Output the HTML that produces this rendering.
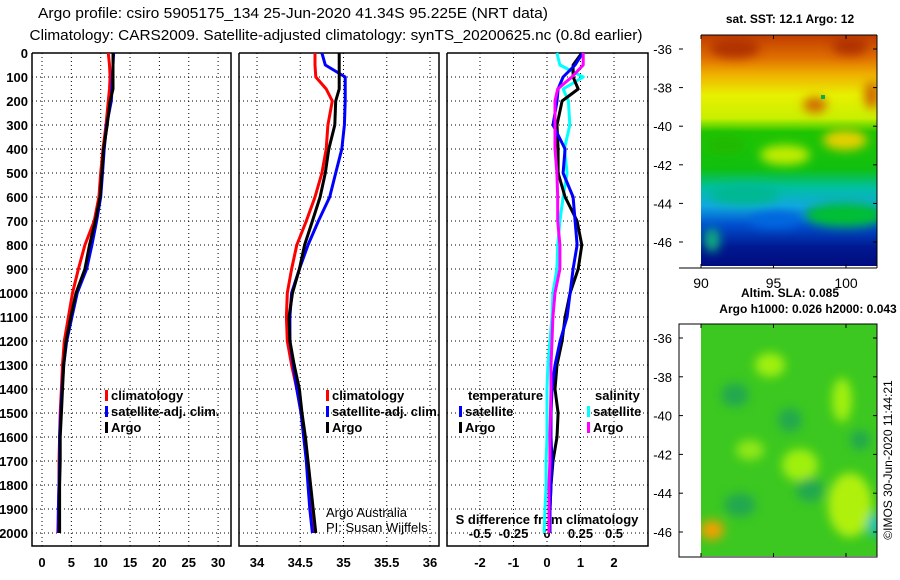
<!DOCTYPE html>
<html><head><meta charset="utf-8"><style>
body{margin:0;background:#fff;}
svg{display:block;font-family:"Liberation Sans",sans-serif;}
.t{font-size:12px;font-weight:bold;fill:#000;}
.tk{font-size:13px;font-weight:bold;fill:#000;}
.ti{font-size:15px;fill:#000;}
</style></head><body>
<svg id="c" width="900" height="580" viewBox="0 0 900 580">
<defs>
<linearGradient id="sstg" x1="0" y1="0" x2="0" y2="1">
<stop offset="0" stop-color="#c03c00"/><stop offset="0.1" stop-color="#e07000"/>
<stop offset="0.17" stop-color="#f0b000"/><stop offset="0.26" stop-color="#e8f000"/>
<stop offset="0.36" stop-color="#c8f000"/><stop offset="0.42" stop-color="#20c400"/>
<stop offset="0.58" stop-color="#10c010"/><stop offset="0.66" stop-color="#00c0a0"/>
<stop offset="0.74" stop-color="#10a8e0"/><stop offset="0.82" stop-color="#0050d0"/>
<stop offset="0.92" stop-color="#001890"/><stop offset="1" stop-color="#000c80"/></linearGradient>
<filter id="bl" x="-50%" y="-50%" width="200%" height="200%"><feGaussianBlur stdDeviation="5"/></filter>
<clipPath id="cm1"><rect x="701" y="35" width="176" height="231"/></clipPath>
<clipPath id="cm2"><rect x="701" y="324" width="176" height="232"/></clipPath>
</defs>
<text class="ti" x="293" y="18" text-anchor="middle" textLength="510" lengthAdjust="spacingAndGlyphs">Argo profile: csiro 5905175_134 25-Jun-2020 41.34S 95.225E (NRT data)</text>
<text class="ti" x="336" y="40" text-anchor="middle" textLength="613" lengthAdjust="spacingAndGlyphs">Climatology: CARS2009. Satellite-adjusted climatology: synTS_20200625.nc (0.8d earlier)</text>
<g id="plots"></g>
<g>
<text class="t" x="790" y="23" text-anchor="middle">sat. SST: 12.1 Argo: 12</text>
<g clip-path="url(#cm1)">
<rect x="701" y="35" width="176" height="231" fill="url(#sstg)"/>
<g filter="url(#bl)">
<ellipse cx="735" cy="48" rx="25" ry="10" fill="#b03000"/>
<ellipse cx="850" cy="46" rx="18" ry="9" fill="#b03000"/>
<ellipse cx="815" cy="105" rx="12" ry="8" fill="#d06a00"/>
<ellipse cx="872" cy="95" rx="8" ry="14" fill="#d06a00"/>
<ellipse cx="845" cy="140" rx="22" ry="10" fill="#e8d000"/>
<ellipse cx="785" cy="155" rx="25" ry="10" fill="#c0ec00"/>
<ellipse cx="725" cy="145" rx="20" ry="8" fill="#20b800"/>
<ellipse cx="745" cy="195" rx="35" ry="10" fill="#00b890"/>
<ellipse cx="775" cy="220" rx="25" ry="8" fill="#0068e0"/>
<ellipse cx="845" cy="215" rx="40" ry="12" fill="#00c030"/>
<ellipse cx="712" cy="240" rx="8" ry="12" fill="#10b080"/>
</g>
<rect x="821" y="95" width="4" height="4" fill="#00b050"/>
</g>
<line x1="701" y1="35" x2="877" y2="35" stroke="#000"/>
<line x1="877" y1="35" x2="877" y2="268" stroke="#000"/>
<line x1="679" y1="268" x2="877" y2="268" stroke="#000"/>
<g id="sstax"></g>
</g>
<text class="t" x="790" y="297" text-anchor="middle">Altim. SLA: 0.085</text>
<text class="t" x="808" y="313" text-anchor="middle">Argo h1000: 0.026 h2000: 0.043</text>
<g>
<g clip-path="url(#cm2)">
<rect x="701" y="324" width="176" height="232" fill="#3cc820"/>
<g filter="url(#bl)">
<ellipse cx="712" cy="530" rx="12" ry="10" fill="#f0a000"/>
<ellipse cx="770" cy="365" rx="15" ry="12" fill="#a0f010"/>
<ellipse cx="800" cy="465" rx="18" ry="16" fill="#a0f010"/>
<ellipse cx="850" cy="505" rx="22" ry="32" fill="#b0f010"/>
<ellipse cx="842" cy="400" rx="10" ry="22" fill="#a0f010"/>
<ellipse cx="750" cy="450" rx="14" ry="10" fill="#90e818"/>
<ellipse cx="735" cy="395" rx="14" ry="12" fill="#20a850"/>
<ellipse cx="790" cy="420" rx="12" ry="12" fill="#20a850"/>
<ellipse cx="810" cy="490" rx="14" ry="12" fill="#20a850"/>
<ellipse cx="875" cy="525" rx="8" ry="12" fill="#10c0b0"/>
<ellipse cx="740" cy="505" rx="16" ry="12" fill="#20a850"/>
<ellipse cx="860" cy="440" rx="10" ry="10" fill="#20a850"/>
</g>
</g>
<rect x="679" y="324" width="198" height="233" fill="none" stroke="#000"/>
<g id="slaax"></g>
</g>
<text x="892" y="460" transform="rotate(-90 892 460)" text-anchor="middle" style="font-size:12px">©IMOS 30-Jun-2020 11:44:21</text>
</svg>
<script>
const depths=[0,50,100,150,200,300,400,500,600,700,800,900,1000,1100,1200,1300,1400,1500,1600,1700,1800,1900,2000];
const tempClim=[11.3,11.5,11.6,11.5,11.3,10.9,10.4,10.0,9.7,8.9,7.3,6.2,5.2,4.5,3.8,3.5,3.3,3.1,3.0,2.9,2.9,2.8,2.7];
const tempSat=[12.2,12.1,12.0,11.9,11.8,11.0,10.6,10.3,10.0,9.3,8.5,7.6,6.0,5.1,4.2,3.7,3.4,3.2,3.0,3.0,2.9,2.8,2.8];
const tempArgo=[12.1,12.1,12.1,12.1,11.6,11.1,10.5,10.2,9.9,9.1,8.1,7.3,5.8,4.9,4.1,3.7,3.5,3.3,3.1,3.1,3.0,3.0,3.0];
const salClim=[34.67,34.67,34.68,34.8,34.87,34.82,34.8,34.75,34.67,34.57,34.46,34.4,34.35,34.34,34.35,34.4,34.46,34.51,34.54,34.58,34.61,34.64,34.67];
const salSat=[34.75,34.79,35.02,35.02,35.02,35.01,34.98,34.91,34.84,34.71,34.59,34.49,34.4,34.38,34.38,34.42,34.46,34.51,34.54,34.57,34.59,34.61,34.64];
const salArgo=[34.95,34.95,34.95,34.95,34.91,34.9,34.83,34.79,34.73,34.64,34.55,34.49,34.41,34.37,34.38,34.43,34.49,34.52,34.56,34.59,34.62,34.65,34.68];
const dTSat=[1.07,0.84,0.48,0.33,0.3,0.18,0.54,0.48,0.78,0.84,0.9,0.78,0.69,0.6,0.39,0.24,0.15,0.12,0.12,0.15,0.12,0.09,0.09];
const dTArgo=[1.04,0.78,0.78,0.93,0.45,0.3,0.33,0.33,0.54,0.9,1.04,0.93,0.69,0.54,0.45,0.3,0.24,0.33,0.3,0.18,0.12,0.09,0.09];
const dSSat=[0.074,0.096,0.27,0.12,0.16,0.17,0.13,0.15,0.12,0.096,0.08,0.074,0.044,0.037,0.022,0.007,0,0,0,-0.007,-0.007,-0.015,-0.022];
const dSArgo=[0.27,0.27,0.185,0.08,0.06,0.06,0.06,0.074,0.08,0.08,0.096,0.096,0.06,0.044,0.037,0.03,0.03,0.026,0.022,0.022,0.015,0.015,0.015];
const tempTicks=[0,5,10,15,20,25,30];
const salTicks=[34,34.5,35,35.5,36];
const dTicks=[-2,-1,0,1,2];
const dsTicks=[-0.5,-0.25,0,0.25,0.5];
const depthTicks=[0,100,200,300,400,500,600,700,800,900,1000,1100,1200,1300,1400,1500,1600,1700,1800,1900,2000];
const latTicks=[-36,-38,-40,-42,-44,-46];
const lonTicks=[90,95,100];

const NS='http://www.w3.org/2000/svg';
const root=document.getElementById('plots');
function mk(tag,at,parent){const e=document.createElementNS(NS,tag);for(const k in at)e.setAttribute(k,at[k]);(parent||root).appendChild(e);return e;}
const yD=d=>53+d*0.24;
const TOP=53,BOT=546;
const panels=[
 {l:32,r:231,x:v=>42+v*5.87,ticks:tempTicks,name:'temperature'},
 {l:239,r:439,x:v=>257+(v-34)*86.5,ticks:salTicks,name:'salinity'},
 {l:447,r:648,x:v=>547+v*33.5,ticks:dTicks,name:'difference'}
];
panels.forEach((p,i)=>{
 const g=mk('g',{});
 
 
 depthTicks.forEach(d=>{const ln=mk('line',{x1:p.l,x2:p.r,y1:yD(d),y2:yD(d),stroke:'#000','stroke-width':1,'stroke-dasharray':'1,3'},g);
  });
 p.ticks.forEach(v=>{const ln=mk('line',{x1:p.x(v),x2:p.x(v),y1:TOP,y2:BOT,stroke:'#000','stroke-width':1,'stroke-dasharray':'1,3'},g);
  
  if(i<2){const t=mk('text',{x:p.x(v),y:567,'text-anchor':'middle',class:'tk'},g);t.textContent=String(v);
  }
 });
 mk('polyline',{points:`${p.l},${TOP} ${p.l},${BOT} ${p.r},${BOT} ${p.r},${TOP} ${p.l},${TOP}`,fill:'none',stroke:'#000','stroke-width':1.5},g);
});
depthTicks.forEach(d=>{const t=mk('text',{x:28,y:yD(d)+5,'text-anchor':'end',class:'tk'});t.textContent=String(d);
 });
dTicks.forEach(v=>{const t=mk('text',{x:panels[2].x(v),y:567,'text-anchor':'middle',class:'tk'});t.textContent=String(v);
 });
const xS=v=>547+v*134;
dsTicks.forEach(v=>{const t=mk('text',{x:xS(v),y:538,'text-anchor':'middle',class:'tk'});t.textContent=String(v);
 });
const st=mk('text',{x:547,y:524,'text-anchor':'middle',class:'tk'});st.textContent='S difference from climatology';


function line(vals,xf,color,name){
 const pts=vals.map((v,i)=>xf(v).toFixed(1)+','+yD(depths[i]).toFixed(1)).join(' ');
 const e=mk('polyline',{points:pts,fill:'none',stroke:color,'stroke-width':3,'stroke-linejoin':'round'});
 
 
}
line(tempClim,panels[0].x,'#ff0000','temp-climatology-line');
line(tempSat,panels[0].x,'#0000ff','temp-satellite-line');
line(tempArgo,panels[0].x,'#000000','temp-argo-line');
line(salClim,panels[1].x,'#ff0000','sal-climatology-line');
line(salSat,panels[1].x,'#0000ff','sal-satellite-line');
line(salArgo,panels[1].x,'#000000','sal-argo-line');
line(dSSat,xS,'#00ffff','sal-diff-satellite-line');
line(dTArgo,panels[2].x,'#000000','temp-diff-argo-line');
line(dTSat,panels[2].x,'#0000ff','temp-diff-satellite-line');
line(dSArgo,xS,'#ff00ff','sal-diff-argo-line');

function leg(x,y,color,label){
 const g=mk('g',{});
 
 
 mk('rect',{x:x,y:y-10,width:3,height:11,fill:color},g);
 const t=mk('text',{x:x+6,y:y,class:'tk'},g);t.textContent=label;
}
[105,326].forEach(x=>{
 leg(x,400,'#ff0000','climatology');leg(x,416,'#0000ff','satellite-adj. clim.');leg(x,432,'#000','Argo');
});
const tt=mk('text',{x:468,y:400,class:'tk'});tt.textContent='temperature';
const ts=mk('text',{x:595,y:400,class:'tk'});ts.textContent='salinity';
leg(459,416,'#0000ff','satellite');leg(459,432,'#000','Argo');
leg(587,416,'#00ffff','satellite');leg(587,432,'#ff00ff','Argo');
const a1=mk('text',{x:326,y:517,style:'font-size:13px'});a1.textContent='Argo Australia';
const a2=mk('text',{x:326,y:532,style:'font-size:13px'});a2.textContent='PI: Susan Wijffels';

const sax=document.getElementById('sstax'),lax=document.getElementById('slaax');
const lat1=v=>49+(-36-v)*19.3, lat2=v=>338+(-36-v)*19.4, lonX=v=>701+(v-90)*14.5;
latTicks.forEach(v=>{
 [[sax,lat1],[lax,lat2]].forEach(([g,f])=>{
  mk('line',{x1:679,x2:683,y1:f(v),y2:f(v),stroke:'#000'},g);
  mk('line',{x1:873,x2:877,y1:f(v),y2:f(v),stroke:'#000'},g);
  const t=mk('text',{x:672,y:f(v)+5,'text-anchor':'end',style:'font-size:13px'},g);t.textContent=String(v);
  
 });
});
lonTicks.forEach(v=>{
 mk('line',{x1:lonX(v),x2:lonX(v),y1:264,y2:268,stroke:'#000'},sax);
 mk('line',{x1:lonX(v),x2:lonX(v),y1:35,y2:39,stroke:'#000'},sax);
 mk('line',{x1:lonX(v),x2:lonX(v),y1:553,y2:557,stroke:'#000'},lax);
 mk('line',{x1:lonX(v),x2:lonX(v),y1:324,y2:328,stroke:'#000'},lax);
 const t=mk('text',{x:lonX(v),y:288,'text-anchor':'middle',style:'font-size:14px'},sax);t.textContent=String(v);
 
});
</script>
</body></html>
